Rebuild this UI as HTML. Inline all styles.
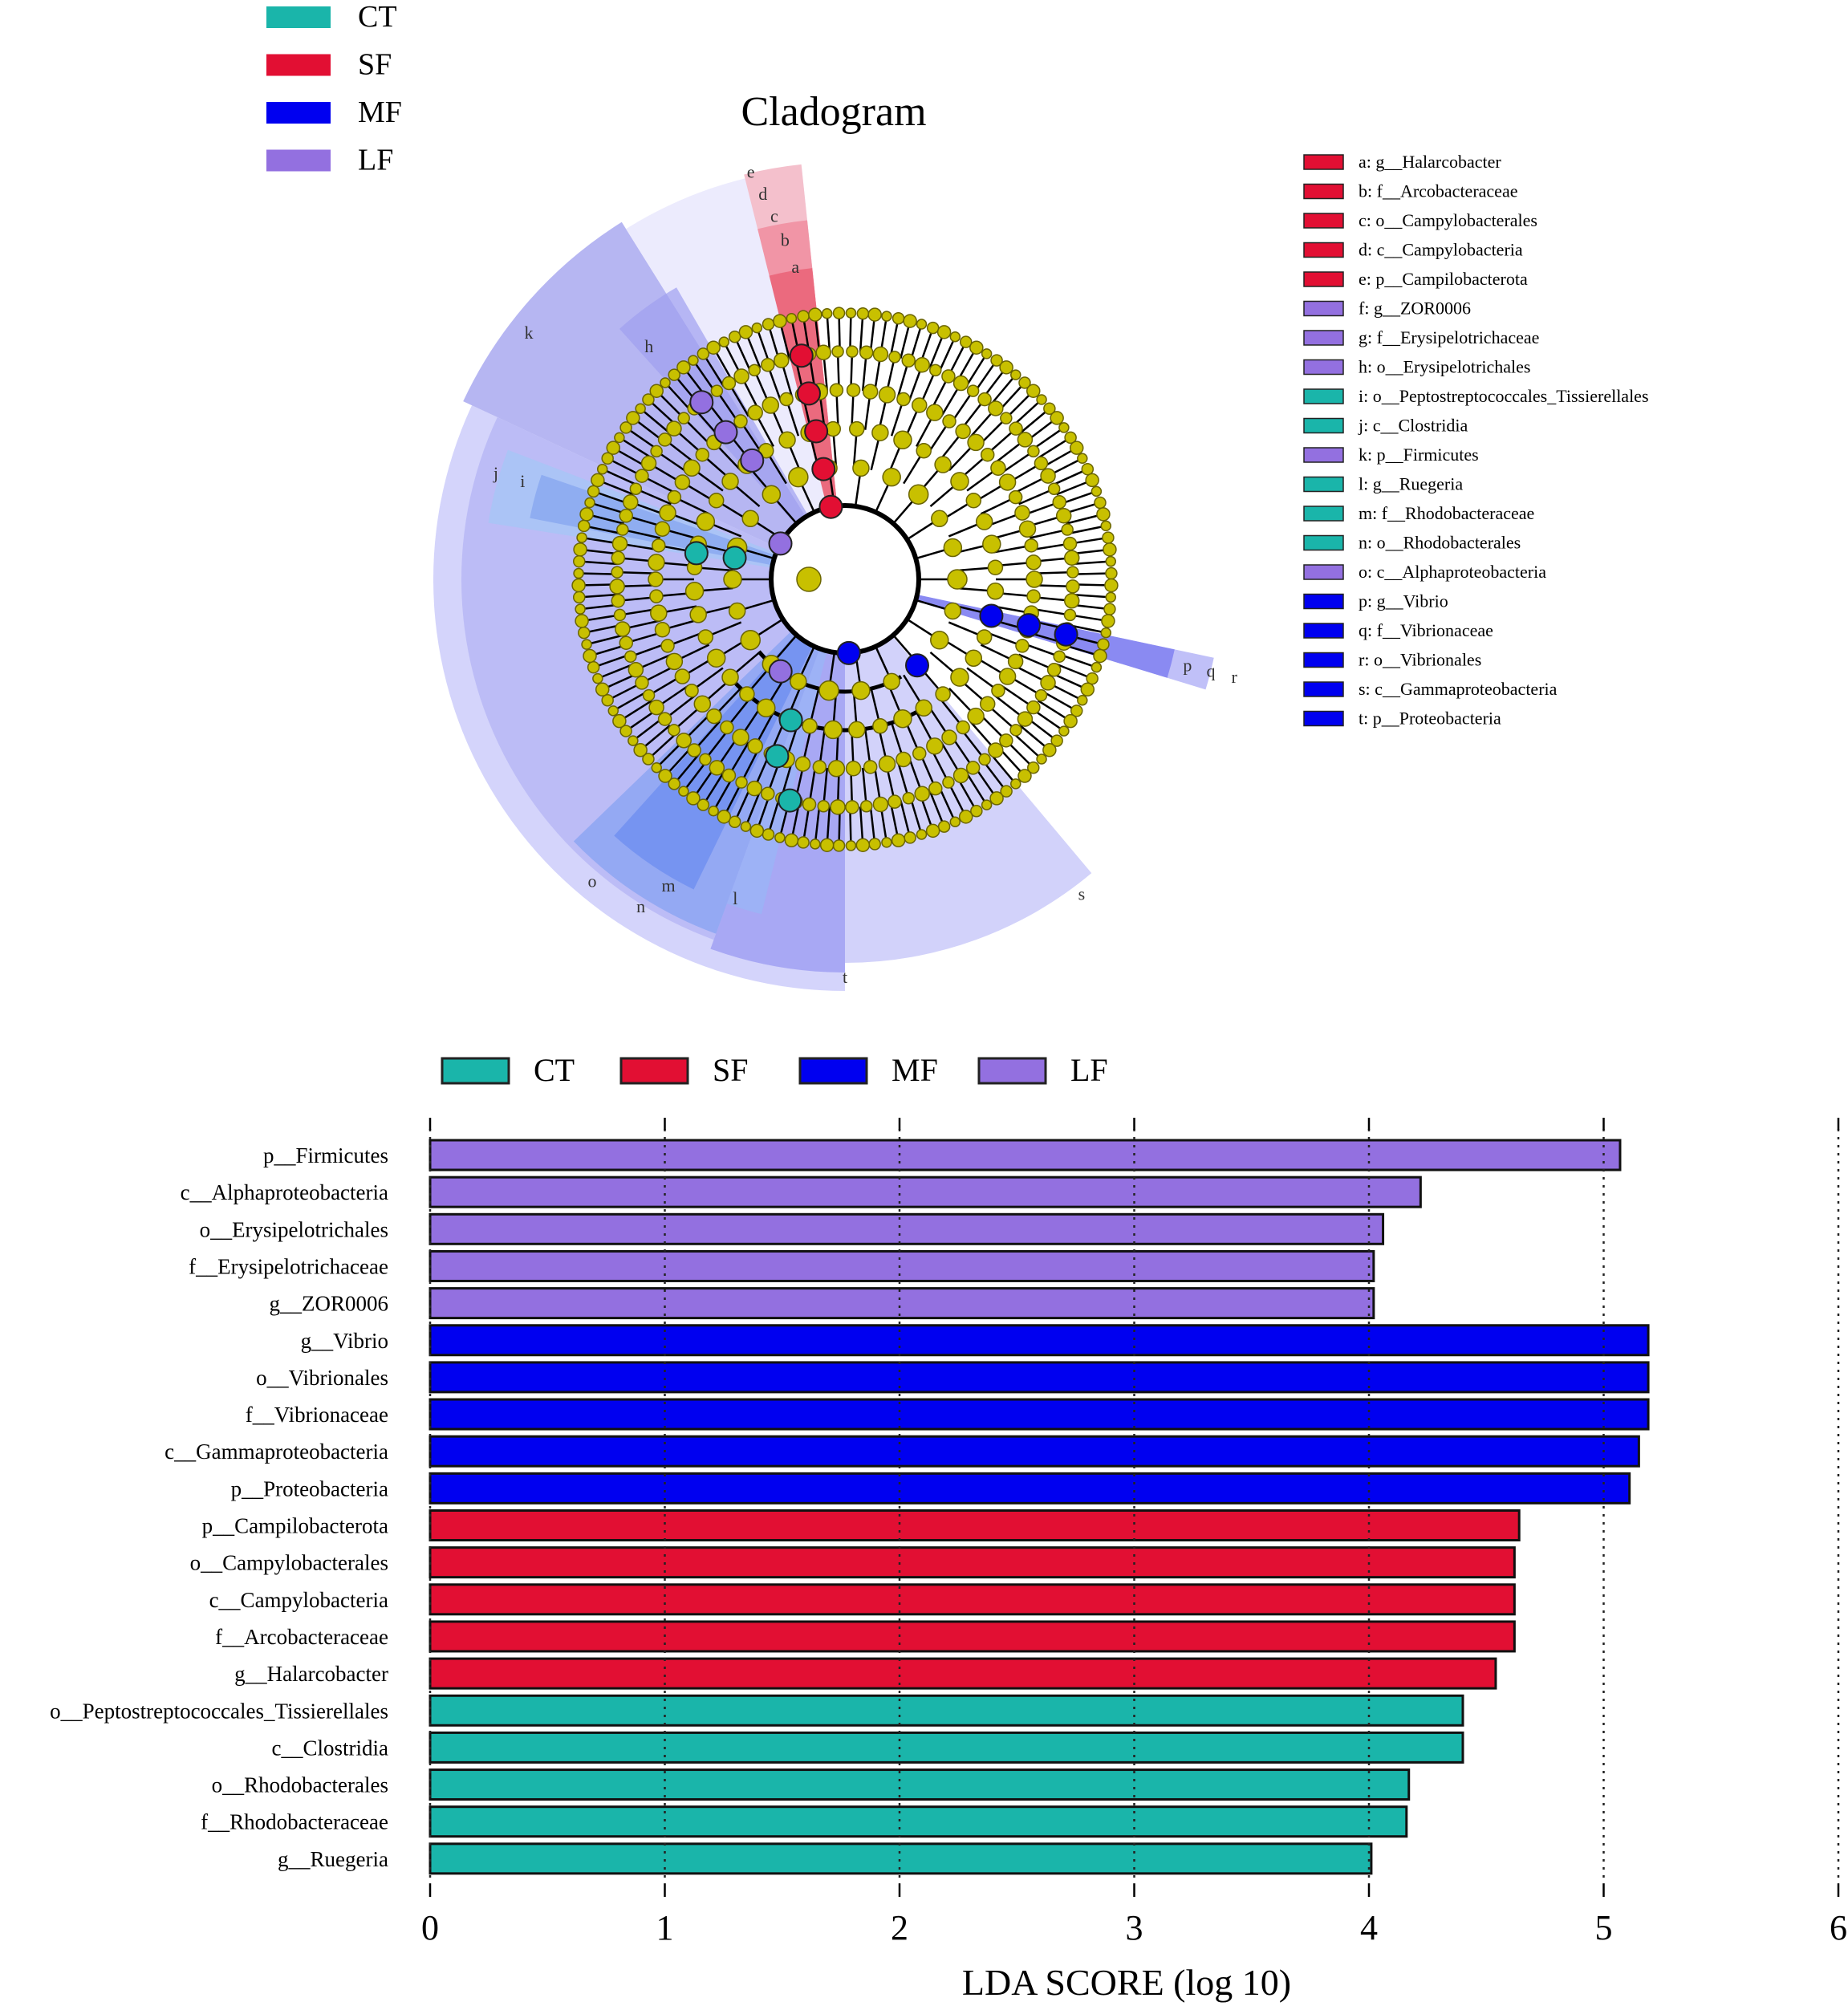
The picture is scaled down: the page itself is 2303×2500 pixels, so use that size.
<!DOCTYPE html>
<html><head><meta charset="utf-8"><style>
html,body{margin:0;padding:0;background:#fff}
svg{display:block;font-family:"Liberation Serif",serif}
</style></head><body>
<svg id="svg" width="2303" height="2500" viewBox="0 0 2303 2500">
<g id="topLegend"></g>
<text x="1039" y="156" font-size="52" text-anchor="middle">Cladogram</text>
<g id="clado"></g>
<g id="rightLegend"></g>
<g id="bars"></g>
</svg>
<script>
const groups=["CT","SF","MF","LF"];
const groupColors=["#1ab5aa","#e20f33","#0000f0","#9370e0"];
const taxa=["p__Firmicutes","c__Alphaproteobacteria","o__Erysipelotrichales","f__Erysipelotrichaceae","g__ZOR0006","g__Vibrio","o__Vibrionales","f__Vibrionaceae","c__Gammaproteobacteria","p__Proteobacteria","p__Campilobacterota","o__Campylobacterales","c__Campylobacteria","f__Arcobacteraceae","g__Halarcobacter","o__Peptostreptococcales_Tissierellales","c__Clostridia","o__Rhodobacterales","f__Rhodobacteraceae","g__Ruegeria"];
const taxaGroup=[3,3,3,3,3,2,2,2,2,2,1,1,1,1,1,0,0,0,0,0];
const ldaValues=[5.07,4.22,4.06,4.02,4.02,5.19,5.19,5.19,5.15,5.11,4.64,4.62,4.62,4.62,4.54,4.40,4.40,4.17,4.16,4.01];
const xTicks=[0,1,2,3,4,5,6];
const cladeLetters=["a: g__Halarcobacter","b: f__Arcobacteraceae","c: o__Campylobacterales","d: c__Campylobacteria","e: p__Campilobacterota","f: g__ZOR0006","g: f__Erysipelotrichaceae","h: o__Erysipelotrichales","i: o__Peptostreptococcales_Tissierellales","j: c__Clostridia","k: p__Firmicutes","l: g__Ruegeria","m: f__Rhodobacteraceae","n: o__Rhodobacterales","o: c__Alphaproteobacteria","p: g__Vibrio","q: f__Vibrionaceae","r: o__Vibrionales","s: c__Gammaproteobacteria","t: p__Proteobacteria"];
const cladeLetterGroup=[1,1,1,1,1,3,3,3,0,0,3,0,0,0,3,2,2,2,2,2];
const NS="http://www.w3.org/2000/svg";
function mk(tag,attrs,parent){const e=document.createElementNS(NS,tag);for(const k in attrs)e.setAttribute(k,attrs[k]);parent.appendChild(e);return e;}

const tl=document.getElementById('topLegend');
groups.forEach((g,i)=>{
  const y=8+i*59.5;
  const r=mk('rect',{x:332,y:y,width:80,height:27,fill:groupColors[i]},tl);
  
  
  const t=mk('text',{x:446,y:y+25,'font-size':38},tl);t.textContent=g;
  
  
});
const rl=document.getElementById('rightLegend');
cladeLetters.forEach((s,i)=>{
  const y=193+i*36.5;
  const r=mk('rect',{x:1625,y:y,width:49,height:18,fill:groupColors[cladeLetterGroup[i]],stroke:'#222','stroke-width':1.5},rl);
  
  
  const t=mk('text',{x:1693,y:y+16,'font-size':22},rl);t.textContent=s;
  
  
});

const cl=document.getElementById('clado');
const cx=1053,cy=722;
function pt(a,r){const t=a*Math.PI/180;return [cx+r*Math.sin(t),cy-r*Math.cos(t)];}
function sector(a0,a1,r0,r1,fill,op,name){
  const [x0,y0]=pt(a0,r1),[x1,y1]=pt(a1,r1),[x2,y2]=pt(a1,r0),[x3,y3]=pt(a0,r0);
  const large=(a1-a0)>180?1:0;
  const d=`M${x0},${y0}A${r1},${r1} 0 ${large} 1 ${x1},${y1}L${x2},${y2}A${r0},${r0} 0 ${large} 0 ${x3},${y3}Z`;
  const p=mk('path',{d:d,fill:fill,'fill-opacity':op},cl);
  
  
}
sector(180,295,0,513,'#d4d4fb',1,'sector-t');
sector(180,295,0,478,'#bcbcf6',1,'sector-t-inner');
sector(180,200,0,490,'#a8a8f4',1,'sector-t-bottom');
sector(140,180,0,478,'#d2d2fa',1,'sector-s');
sector(295,328,0,525,'#b6b6f2',1,'sector-k');
sector(328,354,0,515,'#ecebfd',1,'sector-e-pale');
sector(346,354,0,520,'#f4c0cc',1,'sector-e');
sector(346,354,0,450,'#f08a9c',0.8,'sector-c');
sector(346,354,0,390,'#e8586e',0.7,'sector-a');
sector(279,291,0,450,'#a8c4f6',0.9,'sector-j');
sector(281,289,0,400,'#88a8f0',0.8,'sector-i');
sector(318,330,0,420,'#a0a0f0',0.7,'sector-h');
sector(200,226,0,470,'#8aa4f2',0.8,'sector-o');
sector(206,222,0,430,'#6e8ef0',0.8,'sector-n');
sector(194,200,0,430,'#9ab4f6',0.8,'sector-l');
sector(102,107,0,470,'#c0c0f8',1,'sector-r');
sector(102,107,0,420,'#8a8af2',1,'sector-q');
const wc=mk('circle',{cx:cx,cy:cy,r:92,fill:'#fff'},cl);

const radii=[92,140,188,236,284,332];
const counts=[6,22,40,70,100,140];
const sizes=[12,10,9,8,7,6];
const arc=mk('circle',{cx:cx,cy:cy,r:radii[0],fill:'none',stroke:'#000','stroke-width':6},cl);

[140,188].forEach(r=>{const a=mk('path',{d:(()=>{const [x0,y0]=pt(150,r),[x1,y1]=pt(230,r);return `M${x0},${y0}A${r},${r} 0 0 1 ${x1},${y1}`})(),fill:'none',stroke:'#000','stroke-width':5},cl);});
for(let k=1;k<radii.length;k++){
  for(let j=0;j<counts[k];j++){
    const a=(j+0.5)*360/counts[k];
    const [x0,y0]=pt(a,radii[k-1]),[x1,y1]=pt(a,radii[k]);
    const l=mk('line',{x1:x0,y1:y0,x2:x1,y2:y1,stroke:'#000','stroke-width':2.5},cl);
    
  }
}
for(let k=1;k<radii.length;k++){
  for(let j=0;j<counts[k];j++){
    const a=(j+0.5)*360/counts[k];
    const [x,y]=pt(a,radii[k]);
    const c=mk('circle',{cx:x,cy:y,r:sizes[k]+((j*7)%3),fill:'#c8c000',stroke:'#6a6400','stroke-width':1.5},cl);
    
  }
}
const rootNode=mk('circle',{cx:cx-45,cy:cy,r:15,fill:'#c8c000',stroke:'#6a6400','stroke-width':1.5},cl);

const hl=[[-11,0,1],[-11,1,1],[-11,2,1],[-11,3,1],[-11,4,1],[177,0,2],[140,1,2],[104,2,2],[104,3,2],[104,4,2],[-61,0,3],[-38,2,3],[-39,3,3],[-39,4,3],[215,1,3],[281,1,0],[280,2,0],[201,2,0],[201,3,0],[194,4,0]];
hl.forEach(h=>{
  const [x,y]=pt(h[0],radii[h[1]]);
  const c=mk('circle',{cx:x,cy:y,r:14,fill:groupColors[h[2]],stroke:'#222','stroke-width':2},cl);
  
});
const letters=[['a',-9,395],['b',-10,430],['c',-11,462],['d',-12,492],['e',-13,522],['k',-52,500],['h',-40,380],['j',-73,455],['i',-73,420],['l',199,420],['m',210,440],['n',212,480],['o',220,490],['s',143,490],['t',180,495],['p',104,440],['q',104,470],['r',104,500]];
letters.forEach(L=>{
  const [x,y]=pt(L[1],L[2]);
  const t=mk('text',{x:x,y:y+8,'font-size':22,'text-anchor':'middle',fill:'#333'},cl);t.textContent=L[0];
  
});

const bg=document.getElementById('bars');
const x0=536,unit=292.5,top0=1421,pitch=46.15,bh=37;
const X=v=>x0+v*unit;
groups.forEach((g,i)=>{
  const lx=[551,774,997,1220][i];
  const r=mk('rect',{x:lx,y:1319,width:83,height:31,fill:groupColors[i],stroke:'#222','stroke-width':3},bg);
  
  const t=mk('text',{x:lx+114,y:1347,'font-size':40},bg);t.textContent=g;
  
});
taxa.forEach((n,i)=>{
  const y=top0+i*pitch;
  const r=mk('rect',{x:X(0),y:y,width:X(ldaValues[i])-X(0),height:bh,fill:groupColors[taxaGroup[i]],stroke:'#111','stroke-width':3},bg);
  
  const t=mk('text',{x:484,y:y+28,'font-size':27,'text-anchor':'end'},bg);t.textContent=n;
  
});
xTicks.forEach(v=>{
  const x=X(v);
  const g1=mk('line',{x1:x,y1:1407,x2:x,y2:2348,stroke:'#222','stroke-width':2.5,'stroke-dasharray':'3,7'},bg);
  
  const t1=mk('line',{x1:x,y1:1393,x2:x,y2:1408,stroke:'#000','stroke-width':2.5},bg);
  
  const t2=mk('line',{x1:x,y1:2348,x2:x,y2:2364,stroke:'#000','stroke-width':2.5},bg);
  
  const tl2=mk('text',{x:x,y:2417,'font-size':44,'text-anchor':'middle'},bg);tl2.textContent=v;
  
});
const xt=mk('text',{x:1404,y:2486,'font-size':46,'text-anchor':'middle'},bg);xt.textContent='LDA SCORE (log 10)';

</script>
</body></html>
